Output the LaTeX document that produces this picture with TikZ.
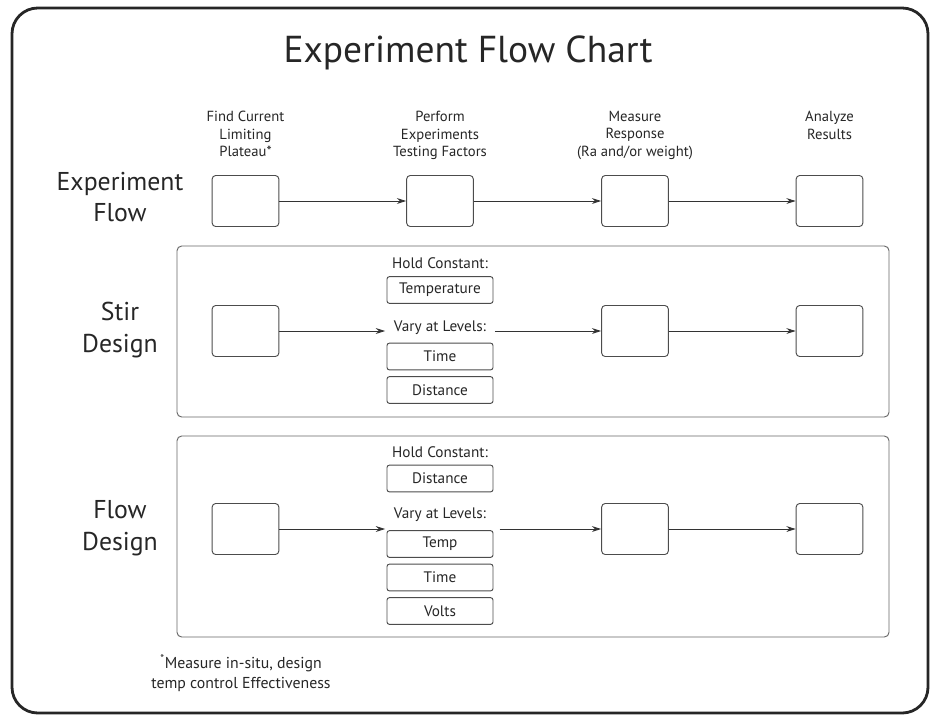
\documentclass[tikz,border=0pt]{standalone}
\usepackage{fontspec}
\setmainfont{PT Sans}
\usepackage{tikz}
\usetikzlibrary{arrows.meta, positioning, calc}

\begin{document}
\begin{tikzpicture}[
    x=0.03cm, y=-0.03cm,
    every node/.style={font=\fontsize{12.5}{15}\selectfont, text=black!85},
    stage/.style={rectangle, draw=black!70, rounded corners=3pt, line width=0.8pt,
                  minimum width=2.0cm, minimum height=1.53cm, inner sep=0pt},
    factor/.style={rectangle, draw=black!70, rounded corners=2pt, line width=0.8pt,
                   minimum width=3.18cm, minimum height=0.8cm, inner sep=0pt,
                   font=\fontsize{13}{15}\selectfont},
    panel/.style={draw=black!60, rounded corners=4pt, line width=0.8pt},
    arrow/.style={-{Stealth[length=8pt, width=5pt]}, line width=0.8pt, draw=black!80},
    head/.style={align=center, anchor=north, font=\fontsize{12.5}{15}\selectfont},
    side/.style={align=center, font=\fontsize{22}{27}\selectfont},
    lbl/.style={font=\fontsize{13}{15}\selectfont}
]
\useasboundingbox (0,0) rectangle (930,717);

% outer frame and title
\draw[line width=2.4pt, draw=black!85, rounded corners=22pt] (12,8) rectangle (928,713);
\node[font=\fontsize{32}{36}\selectfont] (title) at (468,53) {Experiment Flow Chart};

% === Row 1: Experiment Flow ===
\node[side] (lFlow) at (120,197) {Experiment\\Flow};

\node[stage] (eFind)    at (245.5,201) {};
\node[stage] (ePerform) at (440,201) {};
\node[stage] (eMeasure) at (635,201) {};
\node[stage] (eAnalyze) at (829.5,201) {};

\node[head] (hFind)    at (245.5,107) {Find Current\\Limiting\\Plateau*};
\node[head] (hPerform) at (440,107) {Perform\\Experiments\\Testing Factors};
\node[head] (hMeasure) at (635,107) {Measure\\Response\\(Ra and/or weight)};
\node[head] (hAnalyze) at (829.5,107) {Analyze\\Results};

\draw[arrow] (eFind) -- (ePerform);
\draw[arrow] (ePerform) -- (eMeasure);
\draw[arrow] (eMeasure) -- (eAnalyze);

% === Row 2: Stir Design ===
\draw[panel] (177,246) rectangle (889,417);
\node[side] (lStir) at (120,330) {Stir\\Design};

\node[stage] (sFind)    at (245.5,331) {};
\node[stage] (sMeasure) at (635,331) {};
\node[stage] (sAnalyze) at (829.5,331) {};

\node[lbl] (sHold) at (440,263) {Hold Constant:};
\node[factor] (sTemp) at (440,290) {Temperature};
\node[lbl] (sVary) at (440,328) {Vary at Levels:};
\node[factor] (sTime) at (440,356.5) {Time};
\node[factor] (sDist) at (440,390) {Distance};

\draw[arrow, shorten >=4pt] (sFind) -- (sFind -| sVary.west);
\draw[arrow, shorten <=4pt] (sFind -| sVary.east) -- (sMeasure);
\draw[arrow] (sMeasure) -- (sAnalyze);

% === Row 3: Flow Design ===
\draw[panel] (177,436) rectangle (889,637);
\node[side] (lFlowD) at (120,528) {Flow\\Design};

\node[stage] (fFind)    at (245.5,529) {};
\node[stage] (fMeasure) at (635,529) {};
\node[stage] (fAnalyze) at (829.5,529) {};

\node[lbl] (fHold) at (440,452) {Hold Constant:};
\node[factor] (fDist) at (440,478.5) {Distance};
\node[lbl] (fVary) at (440,515) {Vary at Levels:};
\node[factor] (fTemp) at (440,544) {Temp};
\node[factor] (fTime) at (440,577.5) {Time};
\node[factor] (fVolts) at (440,611) {Volts};

\draw[arrow, shorten >=4pt] (fFind) -- (fFind -| fVary.west);
\draw[arrow, shorten <=8pt] (fFind -| fVary.east) -- (fMeasure);
\draw[arrow] (fMeasure) -- (fAnalyze);

% footnote
\node[align=center, font=\fontsize{13.5}{17}\selectfont] (note) at (241,673)
    {\textsuperscript{*}Measure in-situ, design\\temp control Effectiveness};

\end{tikzpicture}
\end{document}
